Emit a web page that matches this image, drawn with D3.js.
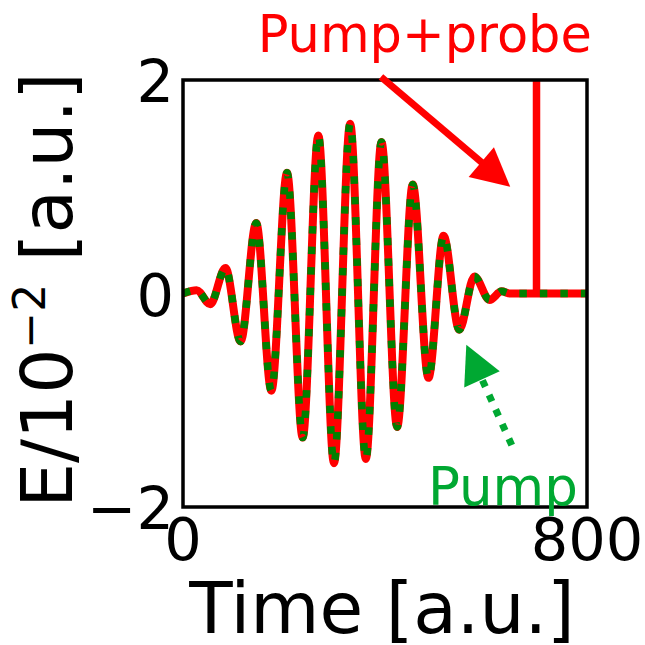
<!DOCTYPE html>
<html>
<head>
<meta charset="utf-8">
<title>Pump and probe field</title>
<script src="https://d3js.org/d3.v7.min.js"></script>
<style>
  body { margin: 0; background: #fff; }
  text { font-family: "DejaVu Sans", sans-serif; }
</style>
</head>
<body>
<svg width="645" height="645"></svg>
<script>
// pump pulse at its extrema (time in a.u., field in 1e-2 a.u.)
var pumpTime = [0, 27, 54, 84, 114, 145, 175, 206, 237, 268, 299, 331, 362, 393, 424, 455, 486, 516, 547, 577, 607, 631, 648, 800];
var pumpField = [0, 0.03, -0.10, 0.24, -0.45, 0.66, -0.91, 1.13, -1.35, 1.48, -1.59, 1.59, -1.55, 1.42, -1.25, 1.02, -0.79, 0.54, -0.34, 0.16, -0.06, 0.02, 0, 0];

// probe: a narrow spike at t = 700 that runs off the top of the axes
var probeTime = [700, 700];
var probeField = [0, 2.6];

var xTicks = [0, 800];
var yTicks = [-2, 0, 2];

// annotations: [text x, text y, arrow tail x, tail y, arrow tip x, tip y] in data units
var probeNote = { label: "Pump+probe", size: 51, pos: [148, 2.26, 392, 2.03, 648, 1.0] };
var pumpNote = { label: "Pump", size: 53, pos: [485, -1.98, 651, -1.42, 561, -0.48] };

var svg = d3.select("svg");

var x = d3.scaleLinear().domain([0, 800]).range([183, 587]);
var y = d3.scaleLinear().domain([-2, 2]).range([507, 80]);

var red = "#ff0000", darkGreen = "#008000", noteGreen = "#00a832";

svg.append("clipPath").attr("id", "plotclip")
  .append("rect")
    .attr("x", x(0)).attr("y", y(2))
    .attr("width", x(800) - x(0)).attr("height", y(-2) - y(2));

var pump = pumpTime.map(function(t, i) { return [t, pumpField[i]]; });
var probe = probeTime.map(function(t, i) { return [t, probeField[i]]; });

var line = d3.line()
    .x(function(d) { return x(d[0]); })
    .y(function(d) { return y(d[1]); })
    .curve(d3.curveMonotoneX);

var straight = d3.line()
    .x(function(d) { return x(d[0]); })
    .y(function(d) { return y(d[1]); });

var plot = svg.append("g").attr("clip-path", "url(#plotclip)");

// pump+probe (solid red)
plot.append("path")
    .datum(pump)
    .attr("fill", "none")
    .attr("stroke", red)
    .attr("stroke-width", 8)
    .attr("d", line);

plot.append("path")
    .datum(probe)
    .attr("fill", "none")
    .attr("stroke", red)
    .attr("stroke-width", 7.5)
    .attr("d", straight);

// pump alone (dotted green on top)
plot.append("path")
    .datum(pump)
    .attr("fill", "none")
    .attr("stroke", darkGreen)
    .attr("stroke-width", 7.5)
    .attr("stroke-dasharray", "7.5,13")
    .attr("d", line);

// frame
svg.append("rect")
    .attr("x", x(0)).attr("y", y(2))
    .attr("width", x(800) - x(0)).attr("height", y(-2) - y(2))
    .attr("fill", "none")
    .attr("stroke", "#000")
    .attr("stroke-width", 3.5);

// tick labels
svg.selectAll(".xtick")
  .data(xTicks)
  .enter().append("text")
    .attr("class", "xtick")
    .attr("x", function(d) { return x(d); })
    .attr("y", 560)
    .attr("text-anchor", "middle")
    .attr("font-size", 59)
    .text(function(d) { return d; });

svg.selectAll(".ytick")
  .data(yTicks)
  .enter().append("text")
    .attr("class", "ytick")
    .attr("x", 174)
    .attr("y", function(d) { return y(d) + 22; })
    .attr("text-anchor", "end")
    .attr("font-size", 59)
    .text(function(d) { return d < 0 ? "\u2212" + Math.abs(d) : d; });

// axis labels
svg.append("text")
    .attr("x", 382)
    .attr("y", 633)
    .attr("text-anchor", "middle")
    .attr("font-size", 71)
    .text("Time [a.u.]");

var ylab = svg.append("text")
    .attr("transform", "translate(72,290) rotate(-90)")
    .attr("text-anchor", "middle")
    .attr("font-size", 71);
ylab.append("tspan").text("E/10");
ylab.append("tspan").attr("font-size", 44).attr("dy", -27).text("\u22122");
ylab.append("tspan").attr("dy", 27).text(" [a.u.]");

// arrows
function arrow(note, color, dashed) {
  var p = note.pos;
  var tail = [x(p[2]), y(p[3])], tip = [x(p[4]), y(p[5])];
  var dx = tip[0] - tail[0], dy = tip[1] - tail[1];
  var len = Math.sqrt(dx * dx + dy * dy);
  var ux = dx / len, uy = dy / len;
  var headLen = 38, headHalf = 19.5;
  var base = [tip[0] - ux * headLen, tip[1] - uy * headLen];

  var shaft = svg.append("line")
      .attr("x1", tail[0]).attr("y1", tail[1])
      .attr("x2", base[0] + ux * 2).attr("y2", base[1] + uy * 2)
      .attr("stroke", color)
      .attr("stroke-width", 7);
  if (dashed) shaft.attr("stroke-dasharray", "7,9");

  svg.append("path")
      .attr("d", "M" + tip[0] + "," + tip[1] +
        "L" + (base[0] - uy * headHalf) + "," + (base[1] + ux * headHalf) +
        "L" + (base[0] + uy * headHalf) + "," + (base[1] - ux * headHalf) + "Z")
      .attr("fill", color);

  svg.append("text")
      .attr("x", x(p[0]))
      .attr("y", y(p[1]))
      .attr("font-size", note.size)
      .attr("fill", color)
      .text(note.label);
}

arrow(probeNote, red, false);
arrow(pumpNote, noteGreen, true);
</script>
</body>
</html>
